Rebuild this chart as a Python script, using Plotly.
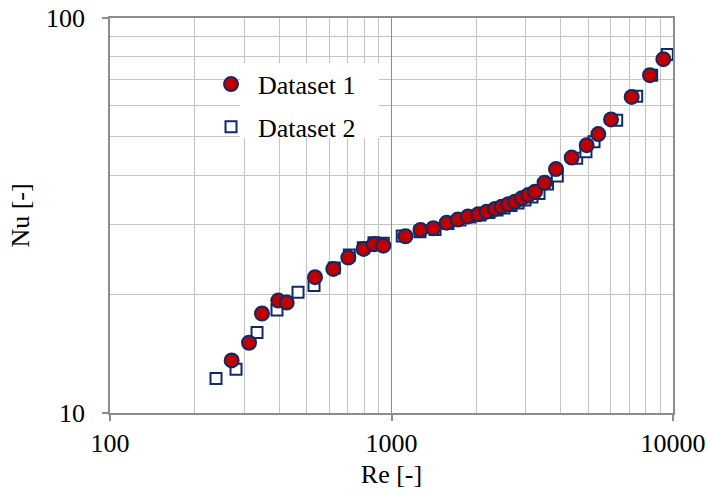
import plotly.graph_objects as go

# Dataset 1: Reynolds number and Nusselt number
re_1 = [270.5, 311.8, 346.7, 396.1, 424.4, 535, 621.4, 702.4, 796.4, 866.5, 935.2,
        1121, 1268, 1408, 1571, 1722, 1870, 2034, 2179, 2332, 2463, 2600, 2746,
        2901, 3062, 3235, 3496, 3840, 4366, 4935, 5427, 6023, 7133, 8284, 9240]
nu_1 = [13.59, 15.06, 17.86, 19.26, 19.04, 22.07, 23.16, 24.74, 26.02, 26.74, 26.52,
        28.02, 29.07, 29.36, 30.33, 30.90, 31.45, 31.85, 32.34, 32.85, 33.29, 33.76, 34.27,
        34.96, 35.64, 36.33, 38.28, 41.45, 44.33, 47.66, 50.82, 55.36, 63.13, 71.64, 78.65]

# Dataset 2
re_2 = [238, 280.3, 332.9, 392, 465.5, 530.6, 626.3, 708.2, 793.9, 866.5, 935.2,
        1092, 1262, 1428, 1588, 1751, 1901, 2063, 2220, 2371, 2510, 2658, 2814,
        2981, 3156, 3342, 3584, 3881, 4549, 4907, 5241, 6310, 7431, 8400, 9546]
nu_2 = [12.23, 12.91, 15.98, 18.24, 20.22, 21.04, 23.29, 25.13, 26.22, 26.99, 26.90,
        28.07, 28.78, 29.15, 30.19, 30.81, 31.35, 31.72, 32.19, 32.66, 33.04, 33.52, 34.01,
        34.61, 35.23, 35.95, 37.99, 39.81, 44.13, 45.85, 48.59, 55.13, 63.39, 71.64, 80.82]

x_major = [100, 1000, 10000]
x_minor = [200, 300, 400, 500, 600, 700, 800, 900,
           2000, 3000, 4000, 5000, 6000, 7000, 8000, 9000]
y_major = [10, 100]
y_minor = [20, 30, 40, 50, 60, 70, 80, 90]

NAVY = "#0F2A66"
RED = "#C00000"
MAJOR = "#8C8C8C"
MINOR = "#C4C4C4"
FONT = "Liberation Serif"

fig = go.Figure()

fig.add_trace(go.Scatter(
    x=re_2, y=nu_2, mode="markers", name="Dataset 2", legendrank=2,
    legendgroup="b",
    marker=dict(symbol="square", size=11, color="white",
                line=dict(color=NAVY, width=2)),
))
fig.add_trace(go.Scatter(
    x=re_1, y=nu_1, mode="markers", name="Dataset 1", legendrank=1,
    legendgroup="a",
    marker=dict(symbol="circle", size=14, color=RED,
                line=dict(color=NAVY, width=2)),
))

# white panel behind the legend text
fig.add_shape(type="rect", xref="paper", yref="paper",
              x0=0.2309, x1=0.4778, y0=0.6959, y1=0.8855,
              fillcolor="white", line=dict(width=0), layer="above")

axis_common = dict(
    type="log", showline=True, mirror=True, linecolor=MAJOR, linewidth=1.5,
    showgrid=True, gridcolor=MAJOR, gridwidth=1.2,
    ticks="outside", ticklen=6, tickcolor=MAJOR, tickwidth=1.5,
    tickfont=dict(family=FONT, size=26, color="black"),
    zeroline=False, automargin=False,
)

fig.update_xaxes(
    **axis_common, range=[2, 4], tickmode="array", tickvals=x_major,
    ticktext=[str(v) for v in x_major],
    minor=dict(tickmode="array", tickvals=x_minor, showgrid=True,
               gridcolor=MINOR, gridwidth=1, ticks=""),
    title=dict(text="Re [-]", font=dict(family=FONT, size=26, color="black"),
               standoff=8),
)
fig.update_yaxes(
    **axis_common, range=[1, 2], tickmode="array", tickvals=y_major,
    ticktext=[str(v) for v in y_major],
    minor=dict(tickmode="array", tickvals=y_minor, showgrid=True,
               gridcolor=MINOR, gridwidth=1, ticks=""),
    ticklabelstandoff=12,
    title=dict(text="Nu [-]", font=dict(family=FONT, size=26, color="black"),
               standoff=9),
)

fig.update_layout(
    width=709, height=499,
    margin=dict(l=110, r=36, t=18, b=86),
    plot_bgcolor="white", paper_bgcolor="white",
    showlegend=True,
    legend=dict(x=0.167, y=0.892, xanchor="left", yanchor="top",
                bgcolor="rgba(0,0,0,0)", borderwidth=0,
                font=dict(family=FONT, size=26, color="black"),
                tracegroupgap=6, itemwidth=44),
    font=dict(family=FONT, size=26, color="black"),
)

fig.write_html("out.html")
